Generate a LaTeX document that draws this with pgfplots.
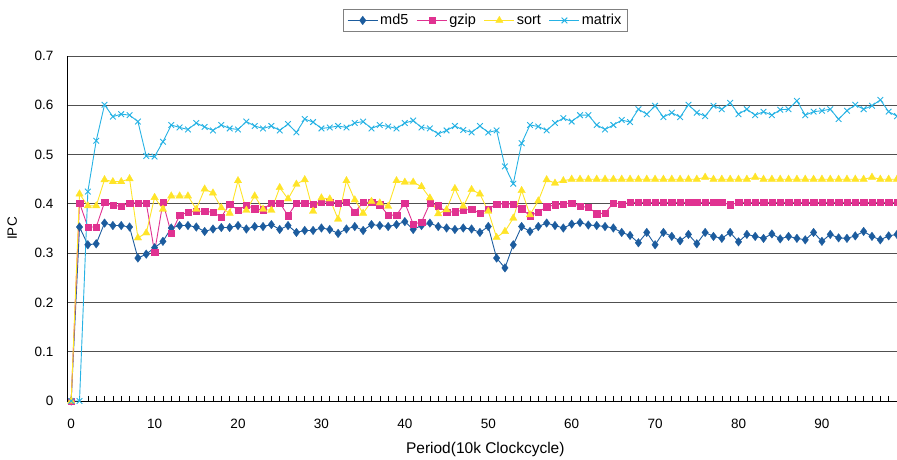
\documentclass[border=0pt]{standalone}
\usepackage{fontspec}
\setmainfont{Liberation Sans}
\usepackage{pgfplots}
\usepackage{pgfplotstable}
\pgfplotsset{compat=1.18}

\definecolor{cmd}{RGB}{28,92,158}
\definecolor{cgz}{RGB}{224,50,145}
\definecolor{cso}{RGB}{255,228,40}
\definecolor{cmx}{RGB}{38,178,228}
\definecolor{cgrid}{RGB}{80,80,80}

% IPC per period
\pgfplotstableread{
i md5 gzip sort matrix
0 0 0 0 0
1 0.353 0.402 0.420 0
2 0.317 0.353 0.396 0.425
3 0.319 0.353 0.396 0.528
4 0.361 0.403 0.449 0.601
5 0.356 0.397 0.445 0.577
6 0.356 0.395 0.445 0.582
7 0.353 0.402 0.451 0.580
8 0.290 0.402 0.331 0.567
9 0.298 0.402 0.341 0.497
10 0.311 0.302 0.413 0.496
11 0.324 0.403 0.389 0.526
12 0.351 0.340 0.416 0.560
13 0.356 0.377 0.416 0.555
14 0.356 0.383 0.416 0.551
15 0.353 0.385 0.389 0.564
16 0.344 0.385 0.430 0.556
17 0.349 0.383 0.422 0.549
18 0.352 0.373 0.392 0.560
19 0.352 0.400 0.381 0.553
20 0.356 0.387 0.447 0.551
21 0.349 0.397 0.387 0.567
22 0.354 0.390 0.416 0.558
23 0.354 0.388 0.389 0.553
24 0.358 0.402 0.387 0.558
25 0.348 0.402 0.433 0.549
26 0.356 0.376 0.410 0.562
27 0.342 0.402 0.440 0.545
28 0.346 0.402 0.449 0.572
29 0.346 0.400 0.385 0.566
30 0.351 0.404 0.412 0.553
31 0.348 0.404 0.410 0.555
32 0.340 0.402 0.369 0.558
33 0.349 0.404 0.447 0.555
34 0.354 0.383 0.408 0.564
35 0.346 0.403 0.381 0.567
36 0.358 0.403 0.405 0.553
37 0.356 0.398 0.402 0.560
38 0.354 0.377 0.395 0.557
39 0.358 0.377 0.447 0.553
40 0.364 0.402 0.444 0.564
41 0.348 0.359 0.444 0.569
42 0.356 0.363 0.435 0.555
43 0.361 0.401 0.412 0.553
44 0.354 0.396 0.380 0.542
45 0.351 0.383 0.388 0.549
46 0.348 0.384 0.431 0.558
47 0.351 0.387 0.395 0.550
48 0.349 0.389 0.429 0.545
49 0.342 0.381 0.420 0.558
50 0.354 0.389 0.385 0.545
51 0.290 0.400 0.332 0.549
52 0.270 0.400 0.344 0.476
53 0.317 0.400 0.371 0.441
54 0.354 0.390 0.427 0.523
55 0.344 0.376 0.378 0.560
56 0.354 0.383 0.406 0.557
57 0.361 0.394 0.449 0.549
58 0.356 0.398 0.442 0.564
59 0.351 0.400 0.447 0.574
60 0.359 0.402 0.450 0.567
61 0.362 0.395 0.450 0.580
62 0.357 0.393 0.450 0.580
63 0.356 0.380 0.450 0.560
64 0.354 0.381 0.450 0.551
65 0.351 0.402 0.450 0.560
66 0.342 0.400 0.450 0.570
67 0.336 0.403 0.450 0.566
68 0.321 0.403 0.450 0.592
69 0.342 0.403 0.450 0.582
70 0.317 0.403 0.450 0.599
71 0.342 0.403 0.450 0.576
72 0.334 0.403 0.450 0.585
73 0.325 0.403 0.450 0.576
74 0.338 0.403 0.450 0.601
75 0.319 0.403 0.450 0.585
76 0.342 0.403 0.454 0.578
77 0.334 0.403 0.450 0.599
78 0.330 0.403 0.450 0.592
79 0.342 0.398 0.450 0.605
80 0.323 0.403 0.450 0.582
81 0.338 0.403 0.450 0.592
82 0.334 0.403 0.454 0.580
83 0.330 0.403 0.450 0.587
84 0.339 0.403 0.450 0.580
85 0.329 0.403 0.450 0.591
86 0.334 0.403 0.450 0.592
87 0.330 0.403 0.450 0.609
88 0.327 0.403 0.450 0.580
89 0.342 0.403 0.450 0.587
90 0.324 0.403 0.450 0.589
91 0.338 0.403 0.450 0.592
92 0.331 0.403 0.450 0.572
93 0.330 0.403 0.450 0.589
94 0.335 0.403 0.450 0.601
95 0.344 0.403 0.450 0.592
96 0.334 0.403 0.454 0.599
97 0.327 0.403 0.450 0.611
98 0.335 0.403 0.450 0.587
99 0.338 0.403 0.450 0.578
}\ipc

\begin{document}
\begin{tikzpicture}
\useasboundingbox (-67pt,-59pt) rectangle (830pt,401pt);
\begin{axis}[
    at={(0pt,0pt)}, anchor=south west,
    scale only axis,
    width=830pt, height=345pt,
    xmin=-0.5, xmax=99,
    ymin=0, ymax=0.7,
    axis x line*=bottom,
    axis y line*=left,
    axis line style={black, line width=0.9pt},
    xtick={0,10,...,90},
    minor xtick={0,1,...,99},
    ytick={0,0.1,...,0.7},
    tick align=inside,
    major tick length=5pt,
    minor tick length=5pt,
    tick style={black, line width=0.6pt},
    ytick style={draw=none},
    ymajorgrids,
    major grid style={cgrid, line width=0.9pt},
    /pgf/number format/assume math mode=true,
    yticklabel style={/pgf/number format/fixed, /pgf/number format/precision=1, xshift=-10pt},
    xticklabel style={yshift=-15pt},
    tick label style={font=\fontsize{13.5}{15}\selectfont},
    xlabel={Period(10k Clockcycle)},
    ylabel={IPC},
    label style={font=\fontsize{15.5}{17}\selectfont},
    xlabel style={at={(axis description cs:0.504,-0.142)}, anchor=center},
    ylabel style={at={(axis description cs:-0.066,0.5)}, anchor=center, font=\fontsize{13.5}{15}\selectfont},
    clip=false,
    legend columns=-1,
    legend style={at={(0.504,1.07)}, anchor=south, draw=gray, line width=0.8pt,
        font=\fontsize{14.5}{16}\selectfont, inner xsep=4pt, inner ysep=3pt,
        /tikz/every even column/.append style={column sep=6pt}},
    legend image code/.code={\draw[mark repeat=2, mark phase=2] plot coordinates {(0pt,0pt) (15pt,0pt) (30pt,0pt)};},
]
\addplot[cmd, line width=0.9pt, mark=diamond*, mark size=4.3pt, mark options={solid, fill=cmd, line width=0.3pt}] table[x=i, y=md5] {\ipc};
\addplot[cgz, line width=0.9pt, mark=square*, mark size=3.2pt, mark options={solid, fill=cgz, line width=0.3pt}] table[x=i, y=gzip] {\ipc};
\addplot[cso, line width=0.9pt, mark=triangle*, mark size=4.3pt, mark options={solid, fill=cso, line width=0.3pt}] table[x=i, y=sort] {\ipc};
\addplot[cmx, line width=0.9pt, mark=x, mark size=4pt, mark options={solid, line width=0.9pt}] table[x=i, y=matrix] {\ipc};
\legend{md5, gzip, sort, matrix}
\end{axis}
\end{tikzpicture}
\end{document}
